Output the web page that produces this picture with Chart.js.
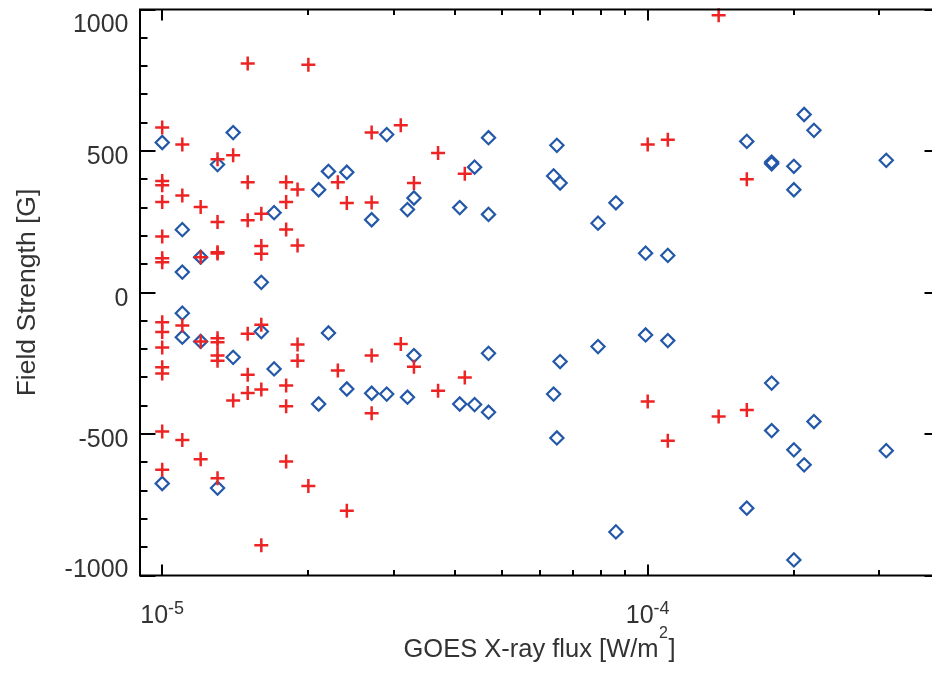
<!DOCTYPE html>
<html><head><meta charset="utf-8">
<script src="https://cdn.jsdelivr.net/npm/chart.js@4/dist/chart.umd.min.js"></script>
<style>
html,body{margin:0;padding:0;background:#fff;overflow:hidden;width:932px;height:675px}
#wrap{position:relative;width:950px;height:675px}
</style></head><body>
<div id="wrap"><canvas id="c"></canvas></div>
<script>
// ---- data ----
const plusFlux = [
  1.0e-5,1.0e-5,1.0e-5,1.0e-5,1.0e-5,1.0e-5,1.0e-5,1.0e-5,1.0e-5,1.0e-5,1.0e-5,1.0e-5,1.0e-5,1.0e-5,
  1.1e-5,1.1e-5,1.1e-5,1.1e-5,
  1.2e-5,1.2e-5,1.2e-5,1.2e-5,
  1.3e-5,1.3e-5,1.3e-5,1.3e-5,1.3e-5,1.3e-5,1.3e-5,1.3e-5,1.3e-5,
  1.4e-5,1.4e-5,
  1.5e-5,1.5e-5,1.5e-5,1.5e-5,1.5e-5,1.5e-5,
  1.6e-5,1.6e-5,1.6e-5,1.6e-5,1.6e-5,1.6e-5,
  1.8e-5,1.8e-5,1.8e-5,1.8e-5,1.8e-5,1.8e-5,
  1.9e-5,1.9e-5,1.9e-5,1.9e-5,
  2.0e-5,2.0e-5,
  2.3e-5,2.3e-5,
  2.4e-5,2.4e-5,
  2.7e-5,2.7e-5,2.7e-5,2.7e-5,
  3.1e-5,3.1e-5,
  3.3e-5,3.3e-5,
  3.7e-5,3.7e-5,
  4.2e-5,4.2e-5,
  1.0e-4,1.0e-4,
  1.1e-4,1.1e-4,
  1.4e-4,1.4e-4,
  1.6e-4,1.6e-4
];
const plusField = [
  583,394,379,320,198,121,107,-105,-140,-194,-264,-286,-491,-626,
  523,343,-117,-521,
  302,125,-173,-589,
  471,249,142,138,-162,-176,-223,-241,-656,
  485,-382,
  809,390,255,-146,-291,-355,
  278,164,137,-114,-343,-893,
  390,320,223,-329,-402,-597,
  364,166,-184,-241,
  805,-684,
  390,-276,
  316,-771,
  565,318,-223,-427,
  591,-182,
  387,-262,
  493,-347,
  420,-300,
  523,-385,
  540,-524,
  980,-438,
  400,-415
];
const diamondFlux = [
  1.0e-5,1.0e-5,
  1.1e-5,1.1e-5,1.1e-5,1.1e-5,
  1.2e-5,1.2e-5,
  1.3e-5,1.3e-5,
  1.4e-5,1.4e-5,
  1.6e-5,1.6e-5,
  1.7e-5,1.7e-5,
  2.1e-5,2.1e-5,
  2.2e-5,2.2e-5,
  2.4e-5,2.4e-5,
  2.7e-5,2.7e-5,
  2.9e-5,2.9e-5,
  3.2e-5,3.2e-5,
  3.3e-5,3.3e-5,
  4.1e-5,4.1e-5,
  4.4e-5,4.4e-5,
  4.7e-5,4.7e-5,4.7e-5,4.7e-5,
  6.4e-5,6.4e-5,
  6.5e-5,6.5e-5,
  6.6e-5,6.6e-5,
  7.9e-5,7.9e-5,
  8.6e-5,8.6e-5,
  9.9e-5,9.9e-5,
  1.1e-4,1.1e-4,
  1.6e-4,1.6e-4,
  1.8e-4,1.8e-4,1.8e-4,1.8e-4,
  2.0e-4,2.0e-4,2.0e-4,2.0e-4,
  2.1e-4,2.1e-4,
  2.2e-4,2.2e-4,
  3.1e-4,3.1e-4
];
const diamondField = [
  530,-675,
  222,72,-73,-158,
  125,-173,
  452,-691,
  565,-229,
  36,-138,
  282,-270,
  363,-394,
  428,-143,
  425,-341,
  257,-356,
  558,-359,
  293,-370,
  334,-223,
  300,-394,
  443,-396,
  547,276,-215,-423,
  412,-359,
  520,-514,
  387,-244,
  245,-191,
  317,-846,
  139,-150,
  131,-170,
  534,-762,
  461,455,-320,-488,
  446,363,-556,-945,
  629,-609,
  573,-456,
  467,-559
];
const xRange = [9e-6, 4e-4];
const yRange = [-1000, 1000];
const yTickValues = [-1000, -500, 0, 500, 1000];
const xTickExponents = [-5, -4];
const xTitleMain = 'GOES X-ray flux [W/m';
const xTitleSup = '2';
const xTitleEnd = ']';
const yTitle = 'Field Strength [G]';

const FONT = '"Liberation Sans", Arial, Helvetica, sans-serif';
const TEXT = '#333333';

const toPoints = (xs, ys) => xs.map((v, i) => ({x: v, y: ys[i]}));

const framePlugin = {
  id: 'frame',
  afterDraw(chart) {
    const {ctx, chartArea: a, scales: {x, y}} = chart;
    ctx.save();
    ctx.strokeStyle = '#000';
    ctx.lineWidth = 2;
    ctx.strokeRect(a.left, a.top, a.right - a.left, a.bottom - a.top);
    ctx.beginPath();
    for (let e = -6; e <= -3; e++) {
      for (let m = 1; m <= 9; m++) {
        const v = m * Math.pow(10, e);
        if (v < x.min || v > x.max) continue;
        const px = Math.round(x.getPixelForValue(v));
        const len = m === 1 ? 11 : 5.5;
        ctx.moveTo(px, a.bottom); ctx.lineTo(px, a.bottom - len);
        ctx.moveTo(px, a.top); ctx.lineTo(px, a.top + len);
      }
    }
    for (let v = yRange[0]; v <= yRange[1]; v += 100) {
      const py = Math.round(y.getPixelForValue(v));
      const len = v % 500 === 0 ? 15.5 : 7.5;
      ctx.moveTo(a.left, py); ctx.lineTo(a.left + len, py);
      ctx.moveTo(a.right, py); ctx.lineTo(a.right - len, py);
    }
    ctx.stroke();

    ctx.fillStyle = TEXT;
    // y tick labels
    ctx.font = '25px ' + FONT;
    ctx.textAlign = 'right';
    ctx.textBaseline = 'alphabetic';
    yTickValues.forEach(v => {
      const py = y.getPixelForValue(v);
      const by = Math.min(Math.max(py + 13, a.top + 22.5), a.bottom + 1.5);
      ctx.fillText(String(v), 128.5, by);
    });
    // x tick labels 10^e
    ctx.textAlign = 'left';
    xTickExponents.forEach(e => {
      const px = x.getPixelForValue(Math.pow(10, e));
      ctx.font = '25px ' + FONT;
      const w1 = ctx.measureText('10').width;
      ctx.font = '18px ' + FONT;
      const sup = String(e);
      const w2 = ctx.measureText(sup).width;
      const left = px - (w1 + w2) / 2;
      ctx.font = '25px ' + FONT;
      ctx.fillText('10', left, 622.5);
      ctx.font = '18px ' + FONT;
      ctx.fillText(sup, left + w1, 613.5);
    });
    // x title
    ctx.font = '25.5px ' + FONT;
    const t1 = ctx.measureText(xTitleMain).width;
    const t3 = ctx.measureText(xTitleEnd).width;
    ctx.font = '16px ' + FONT;
    const t2 = ctx.measureText(xTitleSup).width;
    const tl = 539 - (t1 + t2 + t3) / 2;
    ctx.font = '25.5px ' + FONT;
    ctx.fillText(xTitleMain, tl, 656.5);
    ctx.fillText(xTitleEnd, tl + t1 + t2 + 1, 656.5);
    ctx.font = '16px ' + FONT;
    ctx.fillText(xTitleSup, tl + t1 + 0.5, 638);
    // y title
    ctx.save();
    ctx.translate(34.5, 292.5);
    ctx.rotate(-Math.PI / 2);
    ctx.font = '26.5px ' + FONT;
    ctx.textAlign = 'center';
    ctx.fillText(yTitle, 0, 0);
    ctx.restore();
    ctx.restore();
  }
};

new Chart(document.getElementById('c'), {
  type: 'scatter',
  data: {
    datasets: [
      {
        label: 'plus',
        data: toPoints(plusFlux, plusField),
        pointStyle: 'cross',
        pointRadius: 7,
        pointBorderWidth: 2.5,
        borderColor: '#ee2424',
        backgroundColor: '#ee2424',
        clip: false
      },
      {
        label: 'diamond',
        data: toPoints(diamondFlux, diamondField),
        pointStyle: 'rectRot',
        pointRadius: 6.6,
        pointBorderWidth: 2.2,
        borderColor: '#2358a8',
        backgroundColor: 'rgba(0,0,0,0)',
        clip: false
      }
    ]
  },
  options: {
    responsive: true,
    maintainAspectRatio: false,
    animation: false,
    events: [],
    layout: {padding: {left: 140, right: 10, top: 9.5, bottom: 99.5}},
    plugins: {legend: {display: false}, tooltip: {enabled: false}},
    scales: {
      x: {type: 'logarithmic', min: xRange[0], max: xRange[1], display: false},
      y: {type: 'linear', min: yRange[0], max: yRange[1], display: false}
    }
  },
  plugins: [framePlugin]
});
</script>
</body></html>
